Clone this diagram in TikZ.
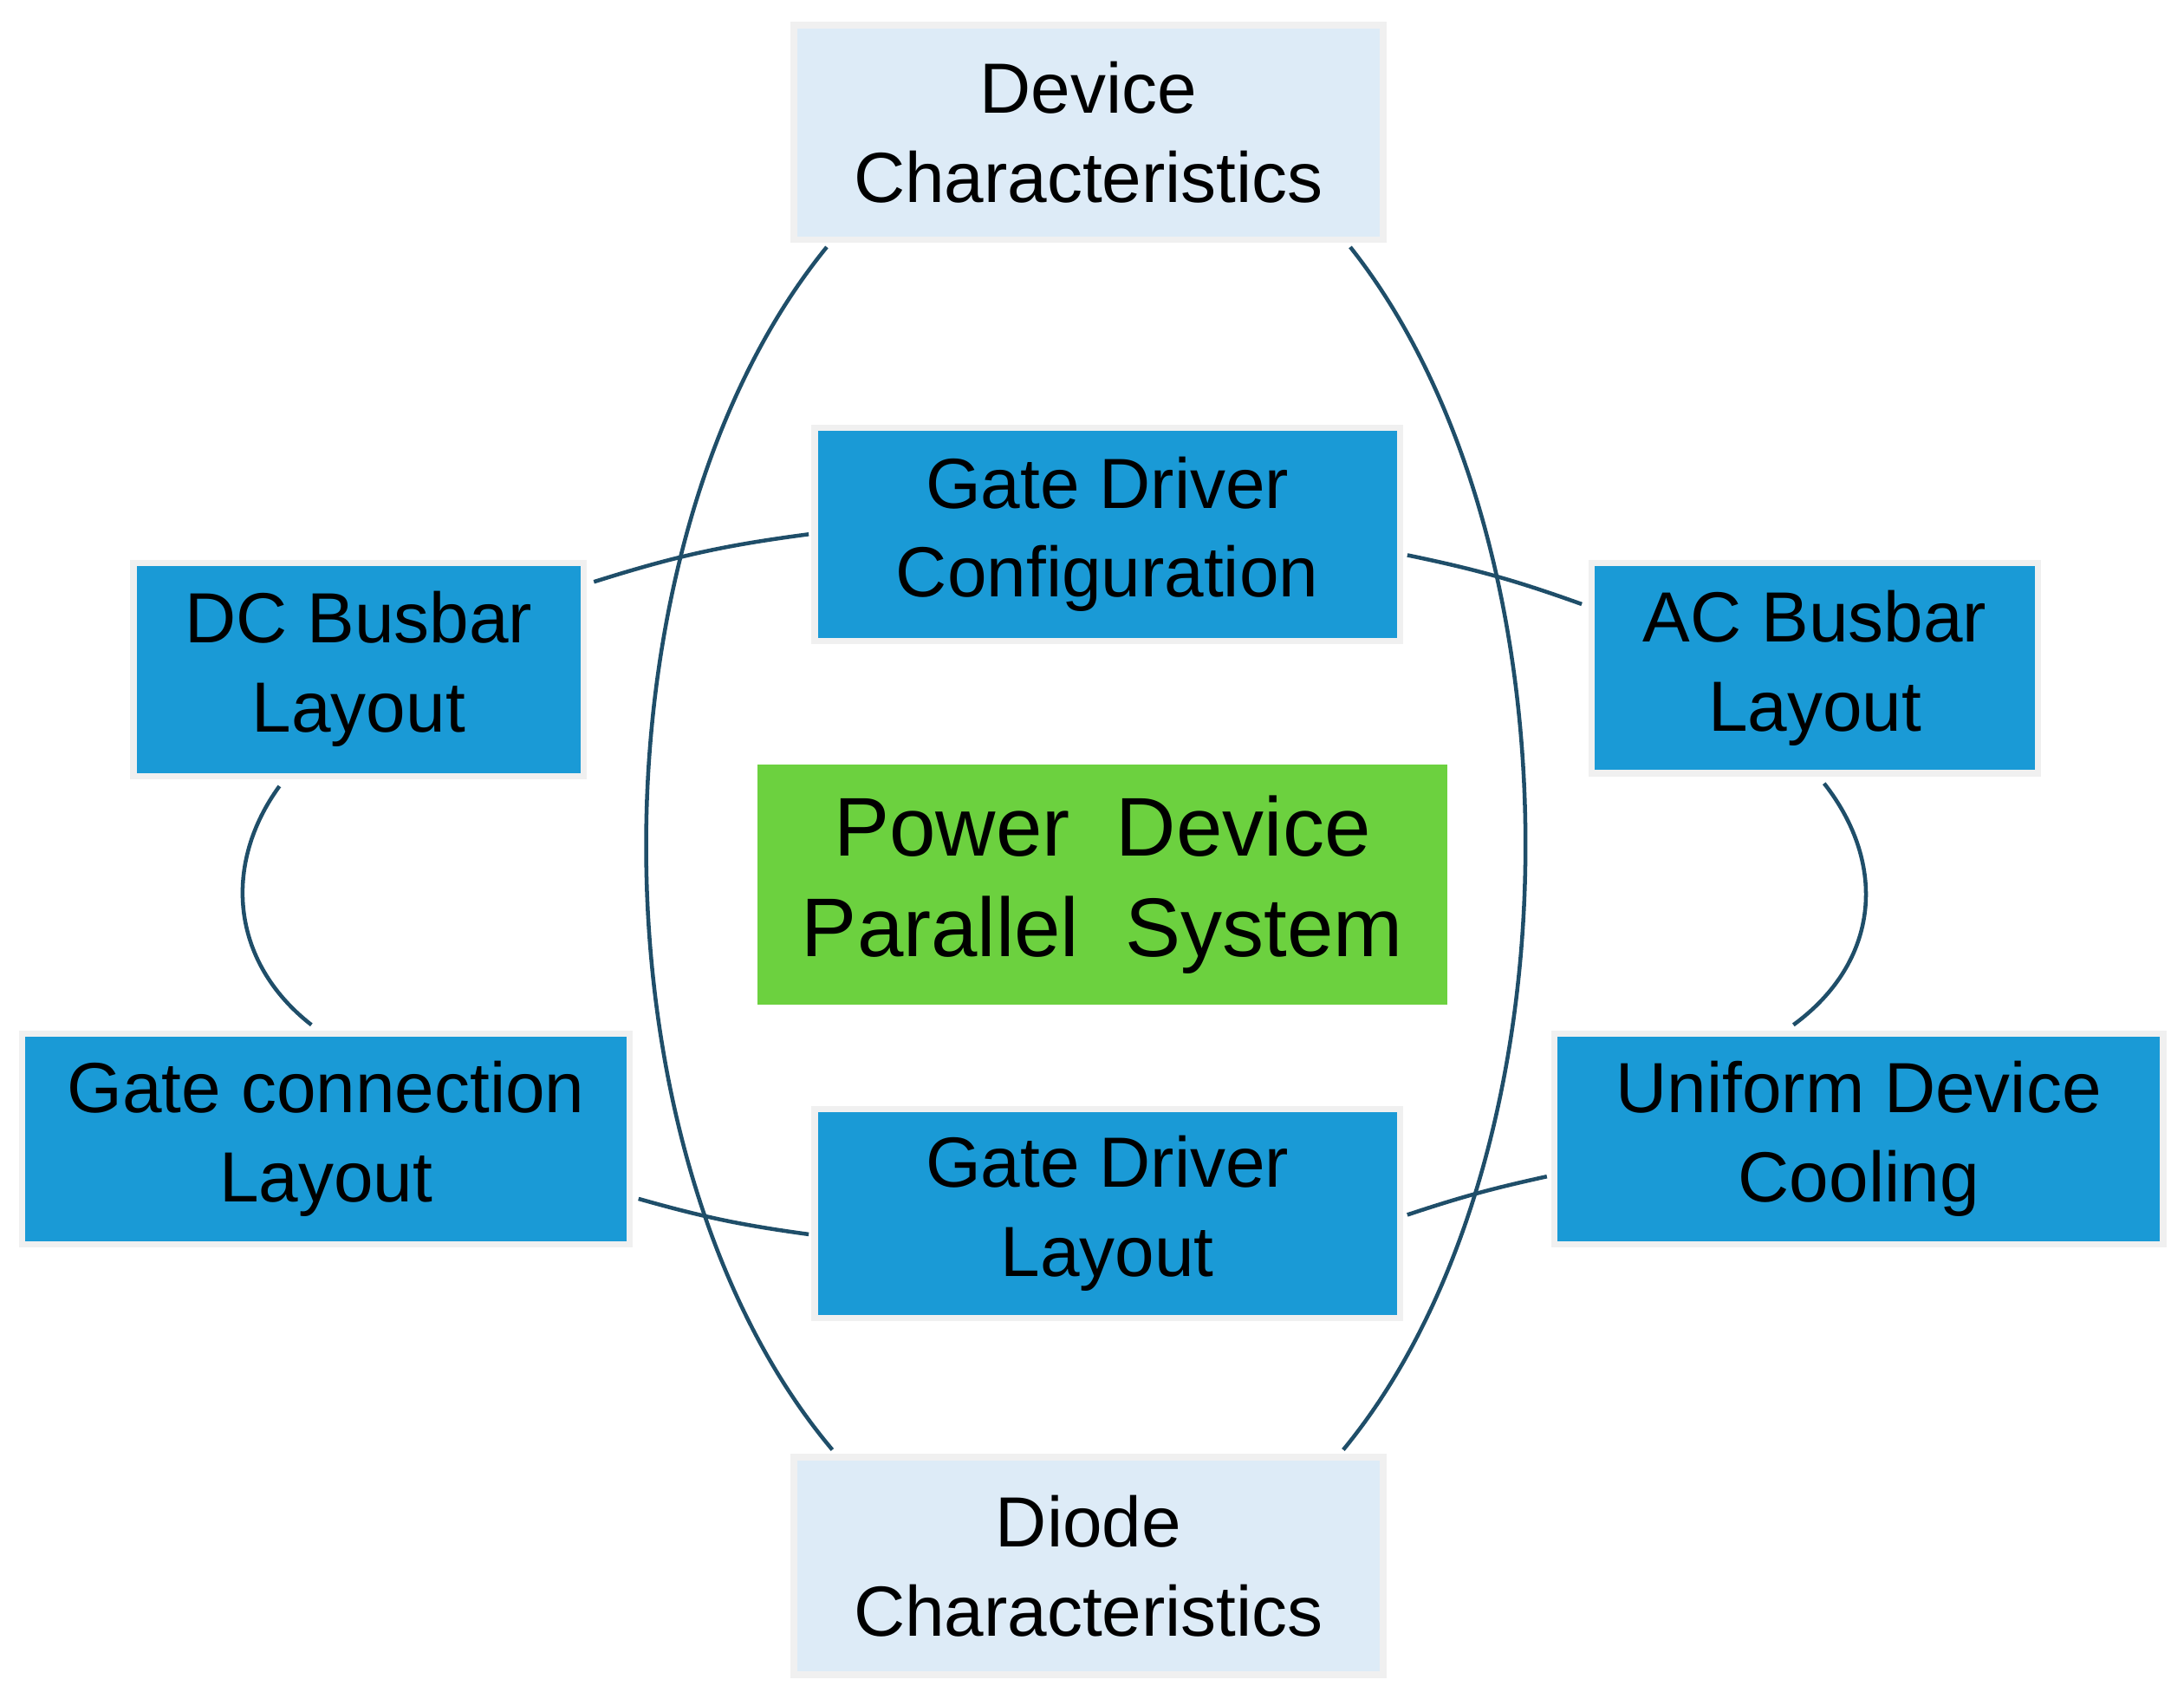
\documentclass[tikz,border=0pt]{standalone}
\usepackage{fontspec}
\setmainfont{Liberation Sans}
\begin{document}
\begin{tikzpicture}[x=0.01cm,y=-0.01cm,
  box/.style={draw=gray!12,line width=1.3pt,align=center,inner sep=0pt,font=\fontsize{14.5pt}{18.2pt}\selectfont},
  lb/.style={box,fill=lightb},
  db/.style={box,fill=blueb},
  ln/.style={draw=navy,line width=0.8pt}]
\definecolor{lightb}{HTML}{DDEBF7}
\definecolor{blueb}{HTML}{1A9AD6}
\definecolor{greenb}{HTML}{6CD13F}
\definecolor{navy}{HTML}{1F4E69}
\useasboundingbox (0,0) rectangle (1568,1219);
\node[lb,minimum width=4.23cm,minimum height=1.54cm] (dev) at (781.5,95) {Device\\Characteristics};
\node[lb,minimum width=4.23cm,minimum height=1.56cm] (dio) at (781.5,1124) {Diode\\Characteristics};
\node[db,minimum width=4.2cm,minimum height=1.53cm] (gdc) at (795,383.5) {Gate Driver\\Configuration};
\node[db,minimum width=4.2cm,minimum height=1.5cm] (gdl) at (795,871) {Gate Driver\\Layout};
\node[db,minimum width=3.23cm,minimum height=1.53cm] (dcb) at (257.5,480.5) {DC Busbar\\Layout};
\node[db,minimum width=3.2cm,minimum height=1.51cm] (acb) at (1303,479.5) {AC Busbar\\Layout};
\node[db,minimum width=4.36cm,minimum height=1.51cm] (gcl) at (234,817.5) {Gate connection\\Layout};
\node[db,minimum width=4.37cm,minimum height=1.51cm] (udc) at (1334.5,817.5) {Uniform Device\\Cooling};
\node[box,draw=none,fill=greenb,minimum width=4.95cm,minimum height=1.72cm,font=\fontsize{17pt}{20.5pt}\selectfont] (pds) at (791.5,635) {Power\ \ Device\\Parallel\ \ System};
\draw[ln] ([shift={(26,3)}]dev.south west) .. controls (420,390) and (420,830) .. ([shift={(30,-3)}]dio.north west);
\draw[ln] ([shift={(-26,3)}]dev.south east) .. controls (1138,390) and (1138,830) .. ([shift={(-31,-3)}]dio.north east);
\draw[ln] ([shift={(107,5)}]dcb.south west) .. controls (160,620) and (165,690) .. ([shift={(210,-4)}]gcl.north west);
\draw[ln] ([shift={(169,5)}]acb.south west) .. controls (1355,620) and (1350,690) .. ([shift={(174,-4)}]udc.north west);
\draw[ln] ([shift={(5,16)}]dcb.north east) to[bend left=5] ([shift={(-2,0)}]gdc.west);
\draw[ln] ([shift={(3,15)}]gdc.east) to[bend left=4] ([shift={(-5,32)}]acb.north west);
\draw[ln] ([shift={(4,43)}]gcl.east) to[bend right=4] ([shift={(-2,15)}]gdl.west);
\draw[ln] ([shift={(3,1)}]gdl.east) to[bend left=3] ([shift={(-3,27)}]udc.west);
\end{tikzpicture}
\end{document}
